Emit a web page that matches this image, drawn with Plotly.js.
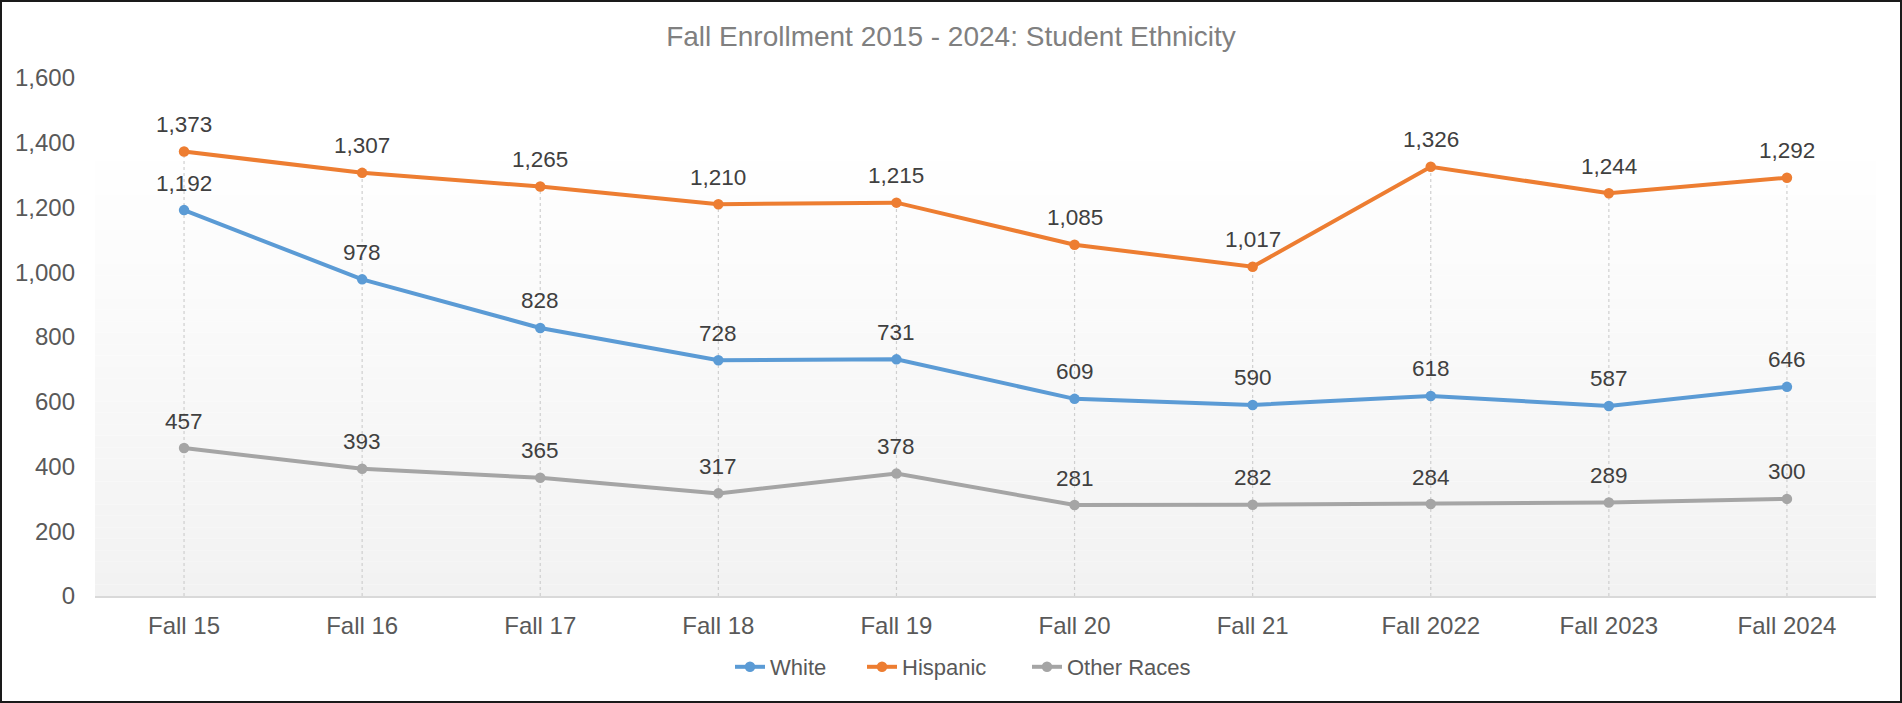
<!DOCTYPE html>
<html>
<head>
<meta charset="utf-8">
<script src="https://cdn.plot.ly/plotly-3.0.1.min.js"></script>
<style>
  html, body { margin: 0; padding: 0; background: #fff; }
  #wrap { position: relative; width: 1902px; height: 703px; }
  #chart { position: absolute; left: 0; top: 0; width: 1902px; height: 703px; }
  #frame { position: absolute; left: 0; top: 0; width: 1902px; height: 703px; box-sizing: border-box; border: 2px solid #1a1a1a; pointer-events: none; }
</style>
</head>
<body>
<div id="wrap">
  <div id="chart"></div>
  <div id="frame"></div>
</div>
<script>
const categories = ["Fall 15", "Fall 16", "Fall 17", "Fall 18", "Fall 19", "Fall 20", "Fall 21", "Fall 2022", "Fall 2023", "Fall 2024"];
const white = [1192, 978, 828, 728, 731, 609, 590, 618, 587, 646];
const hispanic = [1373, 1307, 1265, 1210, 1215, 1085, 1017, 1326, 1244, 1292];
const otherRaces = [457, 393, 365, 317, 378, 281, 282, 284, 289, 300];
const yTicks = [0, 200, 400, 600, 800, 1000, 1200, 1400, 1600];

const seriesDefs = [
  { name: "White", values: white, color: "#5B9BD5", legend: "legend", legendX: 730 },
  { name: "Hispanic", values: hispanic, color: "#ED7D31", legend: "legend2", legendX: 862 },
  { name: "Other Races", values: otherRaces, color: "#A5A5A5", legend: "legend3", legendX: 1027 }
];

const FONT = '"Liberation Sans", Arial, sans-serif';
const W = 1902, H = 703;

// drop lines from highest value down to axis
const dropX = [], dropY = [];
categories.forEach((c, i) => {
  const m = Math.max(white[i], hispanic[i], otherRaces[i]);
  dropX.push(c, c, null);
  dropY.push(0, m, null);
});

const traces = [{
  x: dropX, y: dropY, mode: "lines", type: "scatter",
  line: { color: "#cfcfcf", width: 1.2, dash: "dot" },
  showlegend: false, hoverinfo: "skip"
}];

seriesDefs.forEach(s => {
  traces.push({
    x: categories, y: s.values, name: s.name, type: "scatter", mode: "lines+markers",
    line: { color: s.color, width: 4 },
    marker: { color: s.color, size: 10.5 },
    legend: s.legend, showlegend: true
  });
});

const annotations = [];
seriesDefs.forEach(s => {
  s.values.forEach((v, i) => {
    annotations.push({
      x: categories[i], y: v, xref: "x", yref: "y",
      text: v.toLocaleString("en-US"), showarrow: false,
      yshift: 27, font: { family: FONT, size: 22.5, color: "#404040" }
    });
  });
});

// gradient background bands for plot area
const shapes = [];
const gTop = 0.884, nb = 40;
for (let k = 0; k < nb; k++) {
  const t = k / (nb - 1);
  const c = Math.round(242 + (255 - 242) * t);
  shapes.push({
    type: "rect", xref: "paper", yref: "paper", layer: "below",
    x0: 0, x1: 1, y0: gTop * k / nb, y1: gTop * (k + 1) / nb,
    fillcolor: `rgb(${c},${c},${c})`, line: { width: 0 }
  });
}

const layout = {
  width: W, height: H,
  margin: { l: 95, r: 26, t: 78, b: 107 },
  paper_bgcolor: "#ffffff", plot_bgcolor: "rgba(0,0,0,0)",
  title: {
    text: "Fall Enrollment 2015 - 2024: Student Ethnicity",
    font: { family: FONT, size: 28, color: "#808080" },
    x: 0.5, xanchor: "center", xref: "container", y: 1 - 36 / H, yanchor: "middle", yref: "container"
  },
  xaxis: {
    type: "category", range: [-0.5, 9.5], showgrid: false, zeroline: false,
    showline: true, linecolor: "#d9d9d9", linewidth: 2,
    ticks: "", ticklabelstandoff: 7,
    tickfont: { family: FONT, size: 24, color: "#595959" }
  },
  yaxis: {
    range: [0, 1600], tickvals: yTicks, ticktext: yTicks.map(v => v.toLocaleString("en-US")),
    showgrid: false, zeroline: false, showline: false, ticks: "",
    ticklabelstandoff: 19,
    tickfont: { family: FONT, size: 24, color: "#595959" }
  },
  showlegend: true,
  annotations: annotations,
  shapes: shapes
};

seriesDefs.forEach(s => {
  layout[s.legend] = {
    orientation: "h", x: s.legendX / W, xref: "container", xanchor: "left",
    y: 1 - 667 / H, yref: "container", yanchor: "middle",
    font: { family: FONT, size: 22, color: "#595959" },
    bgcolor: "rgba(0,0,0,0)", borderwidth: 0
  };
});

Plotly.newPlot("chart", traces, layout, { displayModeBar: false, staticPlot: true });
</script>
</body>
</html>
